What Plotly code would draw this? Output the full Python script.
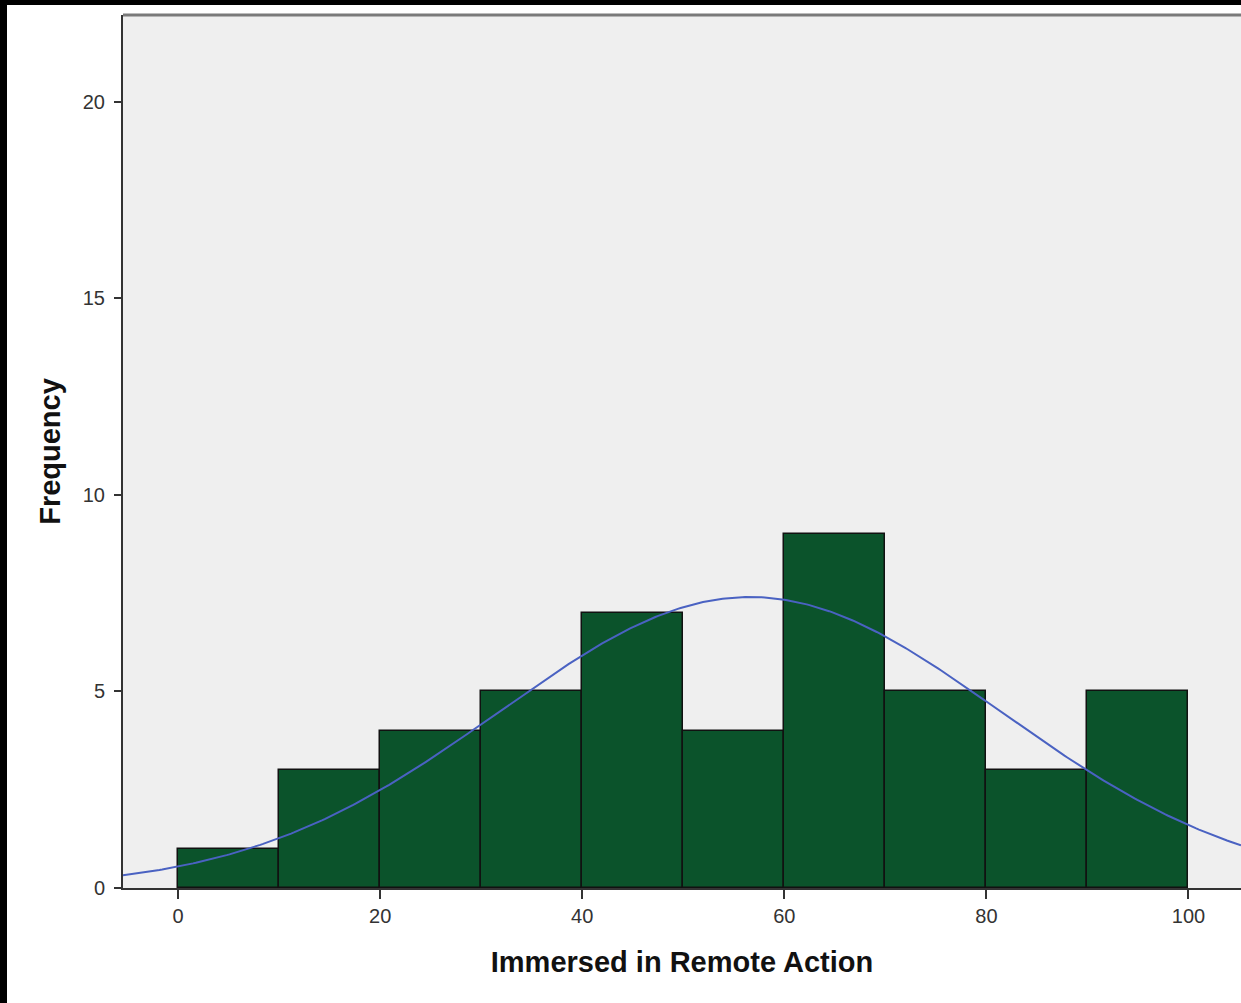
import numpy as np
import plotly.graph_objects as go

# Data
bin_starts = [0, 10, 20, 30, 40, 50, 60, 70, 80, 90]
bin_width = 10
frequencies = [1, 3, 4, 5, 7, 4, 9, 5, 3, 5]
mean_value = 56.6
std_dev = 24.8
n_total = sum(frequencies)
x_ticks = [0, 20, 40, 60, 80, 100]
y_ticks = [0, 5, 10, 15, 20]

W, H = 1241, 1003
ML, MR, MT, MB = 123, 0, 15, 115
x_range = [-5.45, 105.2]
y_range = [0, 22.2]

fig = go.Figure()
fig.add_trace(go.Bar(
    x=[s + bin_width / 2 for s in bin_starts],
    y=frequencies,
    width=bin_width,
    marker=dict(color="#0b532b", line=dict(color="#111111", width=1.5)),
    showlegend=False,
))

xs = np.linspace(x_range[0], x_range[1], 400)
ys = n_total * bin_width / (std_dev * np.sqrt(2 * np.pi)) * np.exp(-((xs - mean_value) ** 2) / (2 * std_dev ** 2))
fig.add_trace(go.Scatter(x=xs, y=ys, mode="lines",
                         line=dict(color="#4a62c2", width=2), showlegend=False))

pw = W - ML - MR
ph = H - MT - MB
def px_to_paper_x(px):
    return (px - ML) / pw
def px_to_paper_y(py):
    return (H - MB - py) / ph

shapes = [
    dict(type="rect", xref="paper", yref="paper",
         x0=px_to_paper_x(0), x1=px_to_paper_x(W), y0=px_to_paper_y(5), y1=px_to_paper_y(0),
         fillcolor="black", line=dict(width=0), layer="above"),
    dict(type="rect", xref="paper", yref="paper",
         x0=px_to_paper_x(0), x1=px_to_paper_x(7), y0=px_to_paper_y(H), y1=px_to_paper_y(0),
         fillcolor="black", line=dict(width=0), layer="above"),
    dict(type="line", xref="paper", yref="paper", x0=0, x1=1, y0=1, y1=1,
         line=dict(color="#7a7a7a", width=3), layer="above"),
]

fig.update_layout(
    width=W, height=H,
    margin=dict(l=ML, r=MR, t=MT, b=MB),
    paper_bgcolor="white",
    plot_bgcolor="#efefef",
    bargap=0,
    font=dict(family="Liberation Sans, Arial, sans-serif", color="#222222"),
    shapes=shapes,
    xaxis=dict(
        range=x_range, tickvals=x_ticks, ticktext=[str(v) for v in x_ticks],
        ticks="outside", ticklen=9, tickwidth=2, tickcolor="#333333",
        showline=True, linecolor="#333333", linewidth=2,
        showgrid=False, zeroline=False,
        tickfont=dict(size=20, color="#333333"),
        title=dict(text="<b>Immersed in Remote Action</b>", font=dict(size=29, color="#111111"), standoff=26),
    ),
    yaxis=dict(
        range=y_range, tickvals=y_ticks, ticktext=[str(v) for v in y_ticks],
        ticks="outside", ticklen=7, tickwidth=2, tickcolor="#333333",
        showline=True, linecolor="#333333", linewidth=2,
        showgrid=False, zeroline=False, ticklabelstandoff=5,
        tickfont=dict(size=20, color="#333333"),
        title=dict(text="<b>Frequency</b>", font=dict(size=29, color="#111111"), standoff=14),
    ),
)

fig.write_html("out.html", config={"displayModeBar": False},
               post_script="document.body.style.margin='0';document.body.style.overflow='hidden';")
